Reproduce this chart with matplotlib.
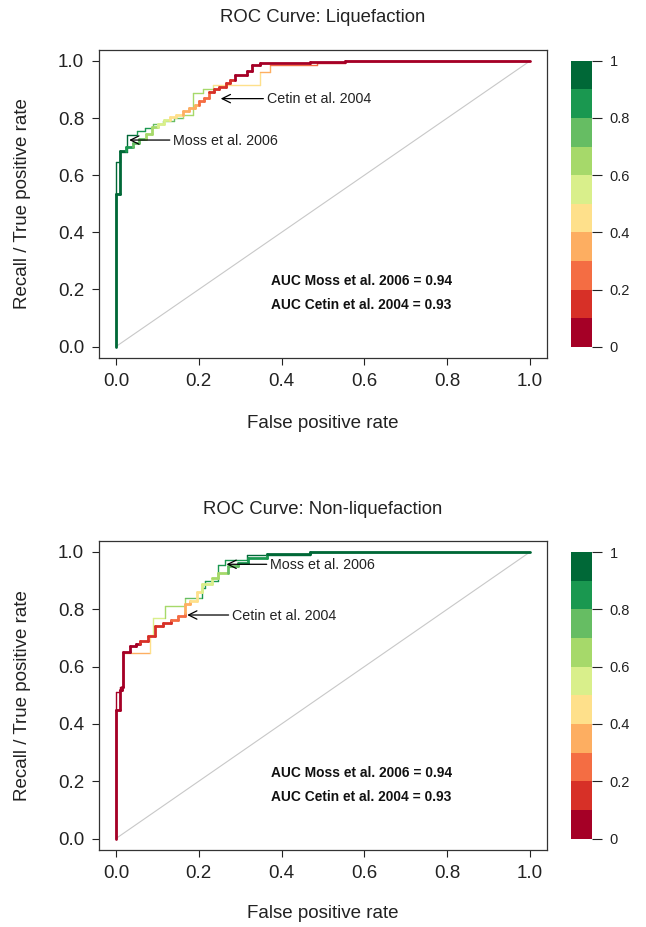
import numpy as np
import matplotlib
matplotlib.use("Agg")
import matplotlib.pyplot as plt
from matplotlib.collections import LineCollection
from matplotlib.colors import ListedColormap, BoundaryNorm
import matplotlib.cm as cm

plt.rcParams['font.family'] = ['Liberation Sans', 'DejaVu Sans']

# ---------------- data ----------------
palette = ["#A50026", "#D73027", "#F46D43", "#FDAE61", "#FEE08B",
           "#D9EF8B", "#A6D96A", "#66BD63", "#1A9850", "#006837"]
cut_bounds = [0, 0.1, 0.2, 0.3, 0.4, 0.5, 0.6, 0.7, 0.8, 0.9, 1.0]
cbar_ticks = [0, 0.2, 0.4, 0.6, 0.8, 1.0]
cbar_ticklabels = ["0", "0.2", "0.4", "0.6", "0.8", "1"]
axis_ticks = [0.0, 0.2, 0.4, 0.6, 0.8, 1.0]
axis_ticklabels = ["0.0", "0.2", "0.4", "0.6", "0.8", "1.0"]
diag = [0.0, 1.0]

titles = ["ROC Curve: Liquefaction", "ROC Curve: Non-liquefaction"]
xlabel = "False positive rate"
ylabel = "Recall / True positive rate"
auc_lines = ["AUC Moss et al. 2006 = 0.94", "AUC Cetin et al. 2004 = 0.93"]
models = ["Moss et al. 2006", "Cetin et al. 2004"]

# Liquefaction - Cetin et al. 2004 (thick)
liq_cetin_fpr = [0, 0, 0.01, 0.01, 0.024, 0.024, 0.04, 0.04, 0.056, 0.056, 0.072, 0.072,
                 0.087, 0.087, 0.101, 0.101, 0.116, 0.116, 0.13, 0.13, 0.145, 0.145,
                 0.162, 0.162, 0.177, 0.177, 0.19, 0.19, 0.201, 0.201, 0.213, 0.213,
                 0.225, 0.225, 0.237, 0.237, 0.25, 0.25, 0.266, 0.266, 0.276, 0.276,
                 0.287, 0.287, 0.316, 0.316, 0.328, 0.328, 0.348, 0.348, 0.469, 0.469,
                 0.553, 0.553, 1.0]
liq_cetin_tpr = [0, 0.533, 0.533, 0.683, 0.683, 0.697, 0.697, 0.712, 0.712, 0.725, 0.725,
                 0.745, 0.745, 0.767, 0.767, 0.78, 0.78, 0.794, 0.794, 0.803, 0.803, 0.812,
                 0.812, 0.825, 0.825, 0.836, 0.836, 0.847, 0.847, 0.86, 0.86, 0.871, 0.871,
                 0.892, 0.892, 0.9, 0.9, 0.909, 0.909, 0.922, 0.922, 0.932, 0.932, 0.95,
                 0.95, 0.965, 0.965, 0.985, 0.985, 0.991, 0.991, 0.997, 0.997, 1.0, 1.0]
liq_cetin_cut = [0.98, 0.96, 0.94, 0.92, 0.88, 0.85, 0.78, 0.76, 0.73, 0.71, 0.68, 0.66,
                 0.63, 0.61, 0.58, 0.56, 0.53, 0.51, 0.48, 0.46, 0.44, 0.42, 0.39, 0.37,
                 0.35, 0.34, 0.32, 0.31, 0.28, 0.26, 0.24, 0.22, 0.205, 0.18, 0.16, 0.15,
                 0.14, 0.13, 0.12, 0.11, 0.105, 0.101, 0.09, 0.08, 0.07, 0.06, 0.05, 0.04,
                 0.03, 0.025, 0.02, 0.015, 0.01, 0.005, 0.0]

# Liquefaction - Moss et al. 2006 (thin)
liq_moss_fpr = [0, 0, 0.009, 0.009, 0.026, 0.026, 0.05, 0.05, 0.07, 0.07, 0.09, 0.09,
                0.114, 0.114, 0.14, 0.14, 0.162, 0.162, 0.186, 0.186, 0.21, 0.21, 0.235,
                0.235, 0.348, 0.348, 0.372, 0.372, 0.485, 0.485, 0.553, 0.553, 1.0]
liq_moss_tpr = [0, 0.645, 0.645, 0.68, 0.68, 0.742, 0.742, 0.755, 0.755, 0.765, 0.765,
                0.78, 0.78, 0.79, 0.79, 0.80, 0.80, 0.81, 0.81, 0.887, 0.887, 0.9, 0.9,
                0.915, 0.915, 0.96, 0.96, 0.986, 0.986, 0.993, 0.993, 1.0, 1.0]
liq_moss_cut = [0.98, 0.96, 0.94, 0.93, 0.92, 0.91, 0.88, 0.86, 0.84, 0.82, 0.78, 0.76,
                0.74, 0.73, 0.72, 0.71, 0.69, 0.67, 0.66, 0.64, 0.62, 0.61, 0.58, 0.48,
                0.44, 0.38, 0.35, 0.28, 0.25, 0.18, 0.12, 0.05, 0.0]

# Non-liquefaction - Cetin et al. 2004 (thick)
non_cetin_fpr = [0, 0, 0.01, 0.01, 0.014, 0.014, 0.018, 0.018, 0.034, 0.034, 0.048, 0.048,
                 0.058, 0.058, 0.077, 0.077, 0.094, 0.094, 0.113, 0.113, 0.134, 0.134,
                 0.15, 0.15, 0.167, 0.167, 0.167, 0.179, 0.179, 0.195, 0.195, 0.207,
                 0.207, 0.231, 0.231, 0.247, 0.247, 0.271, 0.271, 0.295, 0.295, 0.32,
                 0.32, 0.364, 0.364, 0.469, 0.469, 1.0]
non_cetin_tpr = [0, 0.448, 0.448, 0.517, 0.517, 0.529, 0.529, 0.65, 0.65, 0.672, 0.672,
                 0.68, 0.68, 0.69, 0.69, 0.708, 0.708, 0.741, 0.741, 0.752, 0.752, 0.764,
                 0.764, 0.775, 0.775, 0.787, 0.819, 0.819, 0.83, 0.83, 0.859, 0.859, 0.888,
                 0.888, 0.91, 0.91, 0.927, 0.927, 0.951, 0.951, 0.962, 0.962, 0.98, 0.98,
                 0.994, 0.994, 1.0, 1.0]
non_cetin_cut = [0.02, 0.03, 0.04, 0.05, 0.055, 0.06, 0.065, 0.07, 0.075, 0.08, 0.09,
                 0.095, 0.11, 0.12, 0.13, 0.14, 0.15, 0.16, 0.17, 0.18, 0.19, 0.21, 0.23,
                 0.25, 0.28, 0.31, 0.35, 0.38, 0.42, 0.45, 0.48, 0.52, 0.55, 0.58, 0.62,
                 0.65, 0.68, 0.71, 0.74, 0.77, 0.81, 0.83, 0.86, 0.89, 0.92, 0.95, 0.97, 1.0]

# Non-liquefaction - Moss et al. 2006 (thin)
non_moss_fpr = [0, 0, 0.01, 0.01, 0.018, 0.018, 0.082, 0.082, 0.09, 0.09, 0.118, 0.118,
                0.167, 0.167, 0.207, 0.207, 0.215, 0.215, 0.247, 0.247, 0.263, 0.263,
                0.316, 0.316, 0.469, 0.469, 1.0]
non_moss_tpr = [0, 0.51, 0.51, 0.53, 0.53, 0.647, 0.647, 0.709, 0.709, 0.77, 0.77, 0.81,
                0.81, 0.838, 0.838, 0.873, 0.873, 0.9, 0.9, 0.955, 0.955, 0.972, 0.972,
                0.99, 0.99, 1.0, 1.0]
non_moss_cut = [0.02, 0.04, 0.06, 0.08, 0.09, 0.33, 0.42, 0.45, 0.52, 0.58, 0.62, 0.64,
                0.68, 0.72, 0.82, 0.83, 0.84, 0.85, 0.86, 0.87, 0.88, 0.89, 0.92, 0.93,
                0.95, 0.97, 1.0]

# annotation positions (data units): arrow tip, text start
liq_annot = {"Moss et al. 2006": ((0.032, 0.723), (0.138, 0.72)),
             "Cetin et al. 2004": ((0.253, 0.868), (0.364, 0.866))}
non_annot = {"Moss et al. 2006": ((0.267, 0.957), (0.372, 0.954)),
             "Cetin et al. 2004": ((0.172, 0.78), (0.28, 0.777))}
auc_pos = {"x": 0.593, "y": [0.23, 0.146]}

# ---------------- drawing ----------------
cmap = ListedColormap(palette)
norm = BoundaryNorm(cut_bounds, cmap.N)

W, H = 646, 927
fig = plt.figure(figsize=(W / 100, H / 100), dpi=100)


def px_axes(l, t, r, b):
    return [l / W, 1 - b / H, (r - l) / W, (b - t) / H]


def colored_curve(ax, fpr, tpr, cut, lw, z):
    pts = np.column_stack([fpr, tpr])
    segs = np.stack([pts[:-1], pts[1:]], axis=1)
    lc = LineCollection(segs, cmap=cmap, norm=norm, linewidths=lw,
                        capstyle='round', joinstyle='round', zorder=z)
    lc.set_array(np.asarray(cut[:-1]))
    ax.add_collection(lc)


panels = [
    dict(box=(99.4, 49.5, 546.6, 358), cbar=(570.7, 60.7, 591.7, 346.7), title_y=18,
         xlabel_y=423, curves=[(liq_moss_fpr, liq_moss_tpr, liq_moss_cut),
                               (liq_cetin_fpr, liq_cetin_tpr, liq_cetin_cut)],
         annot=liq_annot, title=titles[0]),
    dict(box=(99.4, 540.5, 546.6, 850), cbar=(570.7, 552, 591.7, 838.5), title_y=510,
         xlabel_y=914, curves=[(non_moss_fpr, non_moss_tpr, non_moss_cut),
                               (non_cetin_fpr, non_cetin_tpr, non_cetin_cut)],
         annot=non_annot, title=titles[1]),
]

for p in panels:
    ax = fig.add_axes(px_axes(*p['box']))
    ax.set_xlim(-0.04, 1.04)
    ax.set_ylim(-0.04, 1.04)
    ax.plot(diag, diag, color='#C8C8C8', lw=0.8, zorder=1)
    (mf, mt, mc), (cf, ct, cc) = p['curves']
    colored_curve(ax, mf, mt, mc, 1.0, 2)
    colored_curve(ax, cf, ct, cc, 2.0, 3)

    ax.set_xticks(axis_ticks)
    ax.set_xticklabels(axis_ticklabels)
    ax.set_yticks(axis_ticks)
    ax.set_yticklabels(axis_ticklabels)
    ax.tick_params(direction='out', length=5, width=0.8, labelsize=13.5, pad=6,
                   colors='#222222')
    for s in ax.spines.values():
        s.set_linewidth(0.9)
        s.set_color('#333333')

    for name in models:
        tip, txt = p['annot'][name]
        ax.annotate('', xy=tip, xytext=(txt[0] - 0.008, tip[1]),
                    arrowprops=dict(arrowstyle='->,head_length=0.6,head_width=0.3',
                                    color='black', lw=0.9, shrinkA=0, shrinkB=0,
                                    mutation_scale=10), zorder=5)
        ax.text(txt[0], txt[1], name, ha='left', va='center', fontsize=10.3,
                color='#222222', zorder=5)

    for line, yv in zip(auc_lines, auc_pos['y']):
        ax.text(auc_pos['x'], yv, line, ha='center', va='center', fontsize=9.9,
                fontweight='bold', color='#111111')

    cx = (p['box'][0] + p['box'][2]) / 2
    fig.text(cx / W, 1 - p['title_y'] / H, p['title'], ha='center', va='center',
             fontsize=13.3, color='#222222')
    fig.text(cx / W, 1 - p['xlabel_y'] / H, xlabel, ha='center', va='center',
             fontsize=13.5, color='#222222')
    cy = (p['box'][1] + p['box'][3]) / 2
    fig.text(23 / W, 1 - cy / H, ylabel, ha='center', va='center', rotation=90,
             fontsize=13.5, color='#222222')

    cax = fig.add_axes(px_axes(*p['cbar']))
    cb = fig.colorbar(cm.ScalarMappable(norm=norm, cmap=cmap), cax=cax, ticks=cbar_ticks)
    cb.set_ticklabels(cbar_ticklabels)
    cb.outline.set_visible(False)
    cax.minorticks_off()
    cax.tick_params(which='minor', length=0)
    cax.tick_params(which='major', length=7, width=0.8, labelsize=10.5, pad=6,
                    colors='#222222')

fig.savefig('out.png', dpi=100)
